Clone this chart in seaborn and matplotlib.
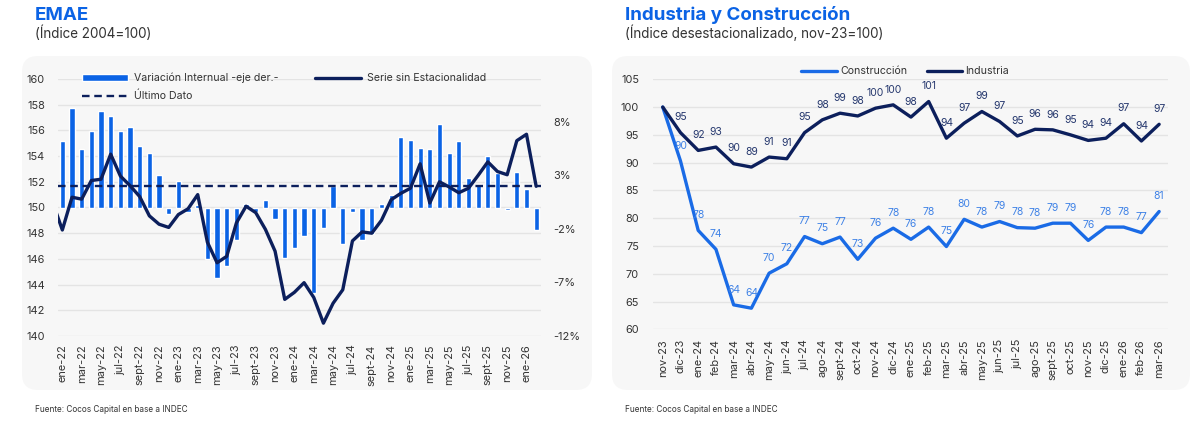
import numpy as np
import pandas as pd
import matplotlib
matplotlib.use("Agg")
import matplotlib.pyplot as plt
from matplotlib.patches import FancyBboxPatch
import seaborn as sns

# ---- datos EMAE (ene-22 .. feb-26) ----
abrev = ["ene", "feb", "mar", "abr", "may", "jun", "jul", "ago", "sept", "oct", "nov", "dic"]
meses_emae = [f"{m}-{a}" for a in (22, 23, 24, 25) for m in abrev] + ["ene-26", "feb-26"]

var_interanual = [6.2, 9.25, 5.5, 7.1, 9.0, 8.5, 7.1, 7.5, 5.7, 5.1, 3.05, -0.6,
                  2.5, -0.4, 0.2, -4.8, -6.6, -5.5, -3.0, 0.3, -0.4, 0.7, -1.1, -4.7,
                  -3.8, -2.7, -8.0, -1.9, 2.0, -3.4, -0.4, -3.05, -2.5, 0.3, 1.15, 6.6,
                  6.35, 5.6, 5.5, 7.8, 5.1, 6.25, 2.8, 2.2, 4.8, 3.2, -0.25, 3.3,
                  1.7, -2.1]

# serie desestacionalizada, arranca en dic-21
serie_sin_est = [150.4,
                 148.25, 150.8, 150.65, 152.1, 152.2, 154.15, 152.45, 151.7, 150.85, 149.35, 148.7, 148.45,
                 149.45, 149.9, 151.0, 147.3, 145.7, 146.2, 148.8, 150.1, 149.6, 148.3, 146.6, 142.85,
                 143.4, 144.15, 143.0, 141.0, 142.55, 143.6, 147.4, 148.1, 148.0, 149.0, 150.6, 151.1,
                 151.5, 153.4, 150.35, 152.0, 151.6, 151.15, 151.5, 152.5, 153.55, 152.8, 152.55, 155.2,
                 155.7, 151.65]

# ---- datos Industria y Construcción (nov-23 .. mar-26) ----
meses_ind = ["nov-23", "dic-23"] + [f"{m}-{a}" for a in (24, 25) for m in abrev] + ["ene-26", "feb-26", "mar-26"]
industria = [100, 95.4, 92.2, 92.8, 89.8, 89.2, 91.0, 90.7, 95.4, 97.7, 98.9, 98.4, 99.8, 100.4,
             98.2, 101.0, 94.4, 97.1, 99.2, 97.4, 94.8, 96.0, 95.9, 95.0, 94.0, 94.4, 97.0, 93.9, 96.9]
construccion = [100, 90.3, 77.8, 74.4, 64.4, 63.8, 70.1, 71.8, 76.7, 75.4, 76.6, 72.6, 76.4, 78.2,
                76.2, 78.4, 74.9, 79.8, 78.4, 79.4, 78.3, 78.2, 79.1, 79.1, 76.0, 78.4, 78.4, 77.4, 81.2]

AZUL = "#0b63e5"
AZUL_CONS = "#1a6be6"
AZUL_LBL = "#3f82e6"
NAVY = "#0c1f5c"
NAVY_LBL = "#26386e"
GRIS_TXT = "#333333"
GRID = "#e4e4e4"
PANEL = "#f7f7f7"

sns.set_theme(style="white")
plt.rcParams["font.family"] = ["Inter", "DejaVu Sans"]
plt.rcParams["text.color"] = GRIS_TXT
plt.rcParams["xtick.color"] = GRIS_TXT
plt.rcParams["ytick.color"] = GRIS_TXT

W, H = 1200, 429
fig = plt.figure(figsize=(12, 4.29), dpi=100)
fig.patch.set_facecolor("white")

# paneles grises redondeados
for x0, x1 in [(22, 592), (612, 1190)]:
    fig.patches.append(FancyBboxPatch((x0 / 100, 0.39), (x1 - x0) / 100, 3.34,
                                      boxstyle="round,pad=0,rounding_size=0.16",
                                      transform=fig.dpi_scale_trans, facecolor=PANEL,
                                      edgecolor="none", zorder=-10))

# ================= EMAE =================
ax = fig.add_axes([57.5 / W, 93 / H, 483.5 / W, 257 / H])
ax.set_facecolor("none")
ax_b = ax.twinx()
ax_l = ax.twinx()

df_emae = pd.DataFrame({"mes": meses_emae, "var": var_interanual})
sns.barplot(data=df_emae, x="mes", y="var", ax=ax_b, color=AZUL, saturation=1,
            width=0.54, label="Variación Internual -eje der.-")

pos_serie = np.arange(len(serie_sin_est)) - 1
sns.lineplot(x=pos_serie, y=serie_sin_est, ax=ax_l, color=NAVY, lw=2.4,
             label="Serie sin Estacionalidad")
ax_l.axhline(serie_sin_est[-1], ls="--", dashes=(3.2, 2), color=NAVY, lw=1.7,
             label="Último Dato")

for a in (ax_b, ax_l):
    if a.get_legend() is not None:
        a.get_legend().remove()

ax.set_ylim(140, 160)
ax_l.set_ylim(140, 160)
ax_b.set_ylim(-12, 12)
ax.set_yticks(range(140, 161, 2))
ax.grid(axis="y", color=GRID, lw=1)
ax.grid(axis="x", visible=False)
ax_b.set_yticks([-12, -7, -2, 3, 8])
ax_b.set_yticklabels([f"{v}%" for v in [-12, -7, -2, 3, 8]])
ax_l.set_yticks([])
ax_b.set_ylabel("")
ax_l.set_ylabel("")
ax_b.grid(False)
ax_l.grid(False)

ax.set_xlim(-0.5, len(meses_emae) - 0.5)
ax.set_xticks(range(0, len(meses_emae), 2))
ax.set_xticklabels(meses_emae[::2], rotation=90)
for a in (ax, ax_b, ax_l):
    for s in a.spines.values():
        s.set_visible(False)
ax.tick_params(axis="both", length=0, labelsize=7.9, pad=6)
ax.tick_params(axis="y", pad=9)
ax_b.tick_params(axis="y", length=0, labelsize=7.9, pad=9)

hb, lb = ax_b.get_legend_handles_labels()
hl, ll = ax_l.get_legend_handles_labels()
ax_l.legend(hb + hl[1:] + hl[:1], lb + ll[1:] + ll[:1], ncol=2, loc="upper left",
            bbox_to_anchor=(0.04, 1.045), frameon=False, fontsize=7.6,
            handlelength=4.3, handleheight=0.55, columnspacing=3.5, labelspacing=0.7,
            borderpad=0, handletextpad=0.6)

# ================= Industria y Construcción =================
ax2 = fig.add_axes([653 / W, 99.7 / H, 515 / W, 250 / H])
ax2.set_facecolor("none")
df_ind = pd.DataFrame({
    "pos": list(range(len(meses_ind))) * 2,
    "serie": ["Construcción"] * len(meses_ind) + ["Industria"] * len(meses_ind),
    "valor": construccion + industria,
})
sns.lineplot(data=df_ind, x="pos", y="valor", hue="serie",
             hue_order=["Construcción", "Industria"],
             palette={"Construcción": AZUL_CONS, "Industria": NAVY}, lw=2.4, ax=ax2)

for vals, col in [(industria, NAVY_LBL), (construccion, AZUL_LBL)]:
    for i, v in enumerate(vals):
        if i == 0:
            continue
        ax2.annotate(f"{v:.0f}", (i, v), xytext=(0, 11), textcoords="offset points",
                     ha="center", va="center", fontsize=7.5, color=col)

ax2.set_ylim(60, 105)
ax2.set_yticks(range(60, 106, 5))
ax2.set_xlim(-0.55, len(meses_ind) - 0.5)
ax2.set_xticks(range(len(meses_ind)))
ax2.set_xticklabels(meses_ind, rotation=90)
ax2.set_xlabel("")
ax2.set_ylabel("")
ax2.grid(axis="y", color=GRID, lw=1)
ax2.grid(axis="x", visible=False)
for s in ax2.spines.values():
    s.set_visible(False)
ax2.tick_params(axis="both", length=0, labelsize=7.9)
ax2.tick_params(axis="y", pad=10)
ax2.tick_params(axis="x", pad=7)
ax2.legend(loc="center", bbox_to_anchor=(0.49, 1.032), ncol=2, frameon=False,
           fontsize=7.6, handlelength=3.4, columnspacing=1.8, handletextpad=0.3,
           borderpad=0)

# ---- títulos y fuente ----
fig.text(35 / W, 1 - 15 / H, "EMAE", fontsize=13.5, fontweight="bold", color=AZUL,
         ha="left", va="center")
fig.text(35 / W, 1 - 33 / H, "(Índice 2004=100)", fontsize=9.7, ha="left", va="center")
fig.text(625 / W, 1 - 15 / H, "Industria y Construcción", fontsize=13.5, fontweight="bold",
         color=AZUL, ha="left", va="center")
fig.text(625 / W, 1 - 33 / H, "(Índice desestacionalizado, nov-23=100)", fontsize=9.7,
         ha="left", va="center")
fig.text(35 / W, 1 - 410 / H, "Fuente: Cocos Capital en base a INDEC", fontsize=5.9,
         ha="left", va="center")
fig.text(625 / W, 1 - 410 / H, "Fuente: Cocos Capital en base a INDEC", fontsize=5.9,
         ha="left", va="center")

fig.savefig("out.png", dpi=100, facecolor="white")
